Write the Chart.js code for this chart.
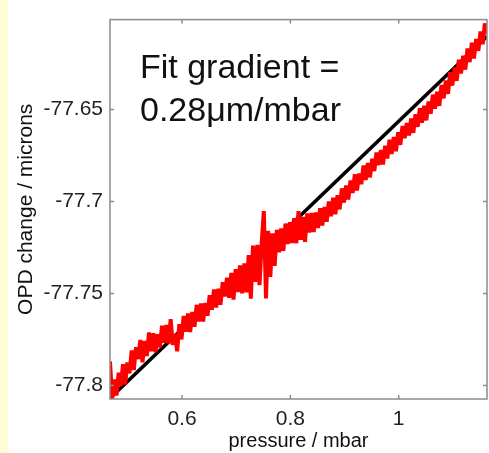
<!DOCTYPE html>
<html>
<head>
<meta charset="utf-8">
<script src="https://cdn.jsdelivr.net/npm/chart.js@4"></script>
<style>
  html, body { margin: 0; padding: 0; }
  body { background: linear-gradient(to right, #fefed6 0, #fefed6 8px, #ffffff 8px); }
  #wrap { width: 489px; height: 453px; position: relative; }
</style>
</head>
<body>
<div id="wrap"><canvas id="chart"></canvas></div>
<script>
// measured trace, pressure (mbar) vs OPD change (microns)
const pressure = [
    0.467, 0.471, 0.475, 0.479, 0.483, 0.487, 0.491, 0.495, 0.499, 0.503,
    0.507, 0.511, 0.515, 0.519, 0.523, 0.527, 0.531, 0.535, 0.539, 0.543,
    0.547, 0.551, 0.555, 0.559, 0.563, 0.567, 0.571, 0.575, 0.579, 0.583,
    0.587, 0.591, 0.595, 0.599, 0.603, 0.607, 0.611, 0.615, 0.619, 0.623,
    0.627, 0.631, 0.635, 0.639, 0.643, 0.647, 0.651, 0.655, 0.659, 0.663,
    0.667, 0.671, 0.675, 0.679, 0.683, 0.687, 0.691, 0.695, 0.699, 0.703,
    0.707, 0.711, 0.715, 0.719, 0.723, 0.727, 0.731, 0.735, 0.739, 0.743,
    0.747, 0.751, 0.755, 0.759, 0.763, 0.767, 0.771, 0.775, 0.779, 0.783,
    0.787, 0.791, 0.795, 0.799, 0.803, 0.807, 0.811, 0.815, 0.819, 0.823,
    0.827, 0.831, 0.835, 0.839, 0.843, 0.847, 0.851, 0.855, 0.859, 0.863,
    0.867, 0.871, 0.875, 0.879, 0.883, 0.887, 0.891, 0.895, 0.899, 0.903,
    0.907, 0.911, 0.915, 0.919, 0.923, 0.927, 0.931, 0.935, 0.939, 0.943,
    0.947, 0.951, 0.955, 0.959, 0.963, 0.967, 0.971, 0.975, 0.979, 0.983,
    0.987, 0.991, 0.995, 0.999, 1.003, 1.007, 1.011, 1.015, 1.019, 1.023,
    1.027, 1.031, 1.035, 1.039, 1.043, 1.047, 1.051, 1.055, 1.059, 1.063,
    1.067, 1.071, 1.075, 1.079, 1.083, 1.087, 1.091, 1.095, 1.099, 1.103,
    1.107, 1.111, 1.115, 1.119, 1.123, 1.127, 1.131, 1.135, 1.139, 1.143,
    1.147, 1.151, 1.155, 1.159, 1.163
];
const opd = [
    -77.787, -77.8072, -77.7968, -77.8055, -77.7931, -77.8005, -77.7885, -77.7995, -77.7875, -77.7935,
    -77.781, -77.7916, -77.7792, -77.7857, -77.7753, -77.7875, -77.7758, -77.784, -77.7712, -77.7815,
    -77.7717, -77.782, -77.7722, -77.7794, -77.7676, -77.7768, -77.7671, -77.7773, -77.764, -77.778,
    -77.772, -77.7815, -77.7667, -77.775, -77.7623, -77.7708, -77.7609, -77.771, -77.7601, -77.7681,
    -77.7562, -77.7653, -77.7554, -77.7653, -77.7552, -77.7621, -77.751, -77.7589, -77.7478, -77.7576,
    -77.7474, -77.7562, -77.7439, -77.7517, -77.7415, -77.7524, -77.7389, -77.7533, -77.7368, -77.7492,
    -77.7347, -77.7499, -77.7337, -77.7494, -77.7292, -77.7528, -77.724, -77.7437, -77.7236, -77.7455,
    -77.7227, -77.7052, -77.7527, -77.716, -77.741, -77.7173, -77.735, -77.7154, -77.7276, -77.7147,
    -77.7269, -77.712, -77.7232, -77.7113, -77.7226, -77.7091, -77.7227, -77.7053, -77.7209, -77.7084,
    -77.722, -77.7065, -77.7169, -77.7063, -77.7166, -77.706, -77.7144, -77.7037, -77.713, -77.703,
    -77.711, -77.700, -77.708, -77.698, -77.707, -77.6966, -77.7043, -77.6929, -77.7006, -77.6913,
    -77.6989, -77.6886, -77.6954, -77.6852, -77.694, -77.6848, -77.6906, -77.6804, -77.6883, -77.6791,
    -77.6869, -77.6767, -77.6835, -77.6734, -77.6802, -77.672, -77.6799, -77.6697, -77.6766, -77.6664,
    -77.6742, -77.665, -77.6727, -77.6624, -77.6692, -77.6589, -77.6656, -77.6574, -77.6641, -77.6549,
    -77.6627, -77.6526, -77.6594, -77.6493, -77.6572, -77.648, -77.6559, -77.6456, -77.6523, -77.6419,
    -77.6496, -77.6403, -77.648, -77.6367, -77.6439, -77.6342, -77.6415, -77.6297, -77.637, -77.6272,
    -77.6344, -77.6229, -77.6304, -77.6208, -77.6283, -77.6168, -77.6242, -77.6137, -77.6222, -77.6116,
    -77.6181, -77.6076, -77.6145, -77.6032, -77.609
];

// linear fit, 0.28 um/mbar
const fitPressure = [0.467, 1.163];
const fitOpd = [-77.807, -77.6103];

const xTicks = [0.6, 0.8, 1];
const yTicks = [-77.8, -77.75, -77.7, -77.65];
const fitText = ['Fit gradient =', '0.28\u03bcm/mbar'];

Chart.defaults.font.family = '"Liberation Sans", Arial, sans-serif';
Chart.defaults.color = '#222';

const boxPlugin = {
    id: 'box',
    afterDatasetsDraw(chart) {
        const { ctx, chartArea: a, scales: { x, y } } = chart;
        ctx.save();
        ctx.strokeStyle = '#8c8c8c';
        ctx.lineWidth = 1.5;
        ctx.strokeRect(a.left, a.top, a.right - a.left, a.bottom - a.top);
        ctx.beginPath();
        xTicks.forEach(v => {
            const px = x.getPixelForValue(v);
            ctx.moveTo(px, a.bottom); ctx.lineTo(px, a.bottom - 4);
            ctx.moveTo(px, a.top); ctx.lineTo(px, a.top + 4);
        });
        yTicks.forEach(v => {
            const py = y.getPixelForValue(v);
            ctx.moveTo(a.left, py); ctx.lineTo(a.left + 4, py);
            ctx.moveTo(a.right, py); ctx.lineTo(a.right - 4, py);
        });
        ctx.stroke();

        ctx.fillStyle = '#111';
        ctx.font = '34px "Liberation Sans", Arial, sans-serif';
        ctx.textBaseline = 'alphabetic';
        ctx.fillText(fitText[0], a.left + 30, a.top + 58);
        ctx.fillText(fitText[1], a.left + 30, a.top + 101);
        ctx.restore();
    }
};

new Chart(document.getElementById('chart'), {
    type: 'line',
    data: {
        datasets: [
            {
                label: 'fit',
                data: fitPressure.map((p, i) => ({ x: p, y: fitOpd[i] })),
                borderColor: '#000',
                borderWidth: 3.5,
                pointRadius: 0,
                order: 2
            },
            {
                label: 'OPD',
                data: pressure.map((p, i) => ({ x: p, y: opd[i] })),
                borderColor: '#ff0000',
                borderWidth: 4,
                borderJoinStyle: 'bevel',
                pointRadius: 0,
                tension: 0,
                order: 1
            }
        ]
    },
    options: {
        responsive: true,
        maintainAspectRatio: false,
        animation: false,
        layout: { padding: { top: 11, right: 2, left: 0, bottom: 0 } },
        plugins: { legend: { display: false }, tooltip: { enabled: false } },
        scales: {
            x: {
                type: 'linear',
                min: 0.467,
                max: 1.163,
                afterBuildTicks: s => { s.ticks = xTicks.map(v => ({ value: v })); },
                afterFit: s => { s.height = 54; },
                grid: { display: false, drawTicks: false },
                border: { display: false },
                ticks: { padding: 8, font: { size: 21 }, color: '#222', callback: v => String(v), maxRotation: 0 },
                title: { display: true, text: 'pressure / mbar', font: { size: 20, lineHeight: 1.2 }, color: '#111', padding: { top: 0, bottom: 0 } }
            },
            y: {
                min: -77.8074,
                max: -77.6011,
                afterBuildTicks: s => { s.ticks = yTicks.map(v => ({ value: v })); },
                afterFit: s => { s.width = 110; },
                grid: { display: false, drawTicks: false },
                border: { display: false },
                ticks: { padding: 7, font: { size: 21 }, color: '#222', callback: v => String(v) },
                title: { display: true, text: 'OPD change / microns', font: { size: 21, lineHeight: 1.2 }, color: '#111', padding: { top: 14, bottom: 0 } }
            }
        }
    },
    plugins: [boxPlugin]
});
</script>
</body>
</html>
